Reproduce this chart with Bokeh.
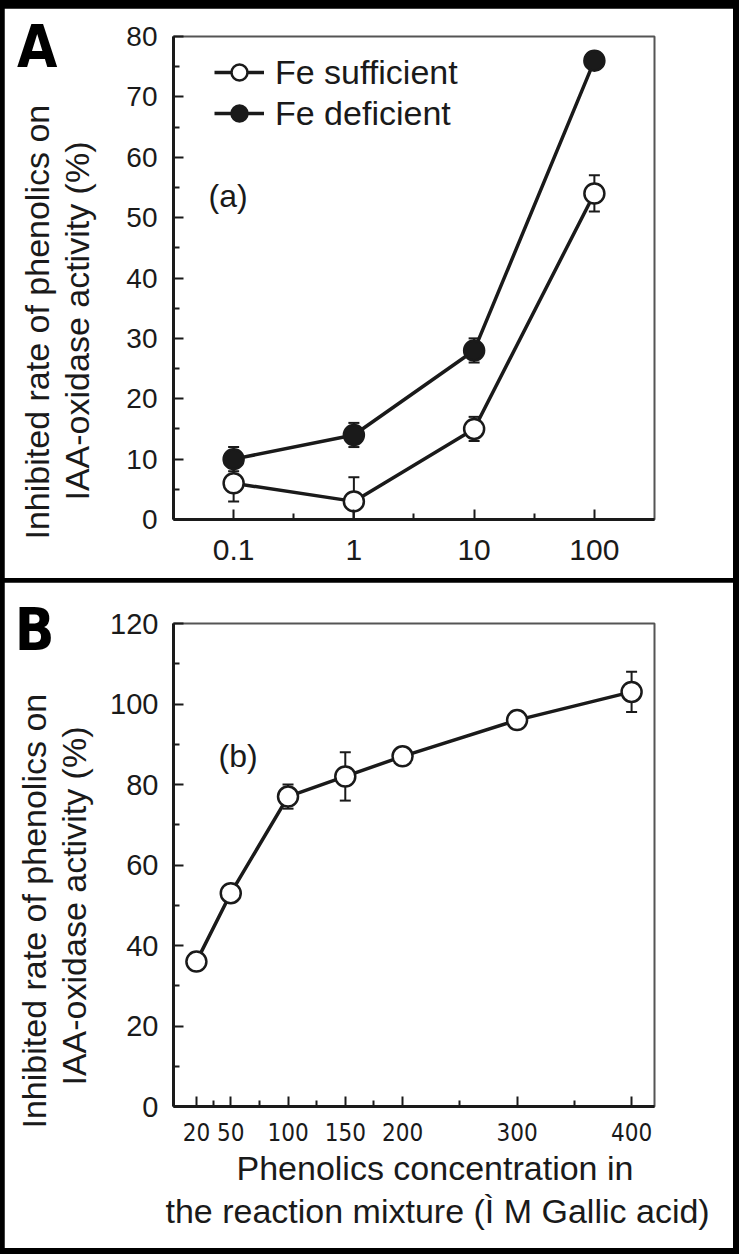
from bokeh.plotting import figure
from bokeh.models import (ColumnDataSource, Whisker, TeeHead, Range1d, FixedTicker, LinearAxis,
                          NumeralTickFormatter, PrintfTickFormatter, Legend, LegendItem, Label, Title)
from bokeh.layouts import column
from bokeh.embed import file_html
from bokeh.resources import INLINE

# ---------------- data ----------------
# Panel A (log x)
conc_a = [0.1, 1, 10, 100]
fe_sufficient = [6, 3, 15, 54]
fe_sufficient_err = [3, 4, 2, 3]
fe_deficient = [10, 14, 28, 76]
fe_deficient_err = [2, 2, 2, 1]

# Panel B
conc_b = [20, 50, 100, 150, 200, 300, 400]
gallic = [36, 53, 77, 82, 87, 96, 103]
gallic_err = [0, 0, 3, 6, 0, 0, 5]

# ticks
a_xticks = [0.1, 1, 10, 100]
a_xminor = [0.316, 3.16, 31.6]
a_yticks = [0, 10, 20, 30, 40, 50, 60, 70, 80]
a_yminor = [5, 15, 25, 35, 45, 55, 65, 75]
b_xticks = [20, 50, 100, 150, 200, 300, 400]
b_xminor = [35, 75, 125, 175, 250, 350]
b_yticks = [0, 20, 40, 60, 80, 100, 120]
b_yminor = [10, 30, 50, 70, 90, 110]

# layout constants: height (in y-axis units) at which the panel letters sit
LETTER_A_Y = 78.3
LETTER_B_Y = 118.3

FONT = "Liberation Sans"
NARROW = "Liberation Sans Narrow, DejaVu Sans Condensed, Liberation Sans"
INK = "#1a1a1a"


def style_axes(p, xsize, ysize, xfont=FONT, xstand=18, ystand=16, yspacer=0):
    p.grid.visible = False
    p.outline_line_color = "#555555"
    p.outline_line_width = 2
    p.background_fill_color = "white"
    p.border_fill_color = "white"
    for ax in p.xaxis + p.yaxis:
        ax.axis_line_width = 3
        ax.axis_line_color = INK
        ax.major_tick_in = 10
        ax.major_tick_out = 0
        ax.minor_tick_in = 6
        ax.minor_tick_out = 0
        ax.major_tick_line_width = 2
        ax.minor_tick_line_width = 2
        ax.major_tick_line_color = INK
        ax.minor_tick_line_color = INK
        ax.major_label_text_color = INK
    for ax in p.xaxis:
        ax.major_label_text_font = xfont
        ax.major_label_text_font_size = xsize
        ax.major_label_standoff = xstand
    for ax in p.yaxis:
        ax.major_label_text_font = FONT
        ax.major_label_text_font_size = ysize
        ax.major_label_standoff = ystand
        ax.axis_label = " "
        ax.axis_label_text_font_size = "1px"
        ax.axis_label_standoff = yspacer


def add_errors(p, x, y, err):
    src = ColumnDataSource(dict(x=x, upper=[v + e for v, e in zip(y, err)],
                                lower=[v - e for v, e in zip(y, err)]))
    w = Whisker(base="x", upper="upper", lower="lower", source=src, dimension="height",
                line_width=2, line_color=INK,
                upper_head=TeeHead(size=11, line_width=2, line_color=INK),
                lower_head=TeeHead(size=11, line_width=2, line_color=INK))
    p.add_layout(w)


def side_title(p, text, place, offset, size="34px", standoff=0):
    t = Title(text=text, align="left", offset=offset, text_font=FONT,
              text_font_size=size, text_font_style="normal", text_color=INK,
              standoff=standoff)
    p.add_layout(t, place)


def panel_letter(p, letter, y):
    # an outer, line-less axis whose single tick label is the panel letter
    ax = LinearAxis(ticker=FixedTicker(ticks=[y], minor_ticks=[]),
                    formatter=PrintfTickFormatter(format=letter),
                    axis_line_color=None, major_tick_line_color=None,
                    minor_tick_line_color=None, major_tick_in=0, major_tick_out=0,
                    major_label_text_font=NARROW, major_label_text_font_size="58px",
                    major_label_text_font_style="bold", major_label_text_color="black",
                    major_label_text_baseline="alphabetic", major_label_text_align="right",
                    major_label_standoff=-42)
    p.add_layout(ax, "left")


# ---------------- Panel A ----------------
pA = figure(width=729, height=570, x_axis_type="log",
            x_range=Range1d(10 ** -1.5, 10 ** 2.5), y_range=Range1d(0, 80),
            output_backend="svg", toolbar_location=None,
            min_border_left=168, min_border_right=79, min_border_top=28, min_border_bottom=59)
style_axes(pA, "30px", "28px", xstand=20, ystand=16, yspacer=24)
pA.xaxis.ticker = FixedTicker(ticks=a_xticks, minor_ticks=a_xminor)
pA.xaxis.formatter = NumeralTickFormatter(format="0.[0]")
pA.yaxis.ticker = FixedTicker(ticks=a_yticks, minor_ticks=a_yminor)

add_errors(pA, conc_a, fe_sufficient, fe_sufficient_err)
add_errors(pA, conc_a, fe_deficient, fe_deficient_err)

srcS = ColumnDataSource(dict(x=conc_a, y=fe_sufficient))
srcD = ColumnDataSource(dict(x=conc_a, y=fe_deficient))
lS = pA.line("x", "y", source=srcS, line_width=3.5, line_color=INK)
lD = pA.line("x", "y", source=srcD, line_width=3.5, line_color=INK)
mS = pA.scatter("x", "y", source=srcS, size=20, fill_color="white", line_color=INK, line_width=2.5)
mD = pA.scatter("x", "y", source=srcD, size=20, fill_color=INK, line_color=INK, line_width=2.5)

legend = Legend(items=[LegendItem(label="Fe sufficient", renderers=[lS, mS]),
                       LegendItem(label="Fe deficient", renderers=[lD, mD])],
                location=(41, 386), border_line_color=None, background_fill_alpha=0,
                padding=0, margin=0, spacing=1, glyph_width=50, glyph_height=40,
                label_height=40, label_standoff=11, label_text_font=FONT,
                label_text_font_size="34px", label_text_color=INK,
                label_text_baseline="middle")
pA.add_layout(legend)

pA.add_layout(Label(x=35, y=324, x_units="screen", y_units="screen", text="(a)",
                    text_font=FONT, text_font_size="32px", text_color=INK,
                    text_baseline="alphabetic"))

side_title(pA, "IAA-oxidase activity (%)", "left", 19)
side_title(pA, "Inhibited rate of phenolics on", "left", -20)
panel_letter(pA, "A", LETTER_A_Y)

# ---------------- Panel B ----------------
pB = figure(width=729, height=666, x_range=Range1d(0, 420), y_range=Range1d(0, 120),
            output_backend="svg", toolbar_location=None,
            min_border_left=169, min_border_right=76, min_border_top=41, min_border_bottom=142)
style_axes(pB, "24px", "29px", xfont=NARROW, xstand=16, ystand=15, yspacer=10)
pB.xaxis.ticker = FixedTicker(ticks=b_xticks, minor_ticks=b_xminor)
pB.yaxis.ticker = FixedTicker(ticks=b_yticks, minor_ticks=b_yminor)

add_errors(pB, conc_b, gallic, gallic_err)
srcB = ColumnDataSource(dict(x=conc_b, y=gallic))
pB.line("x", "y", source=srcB, line_width=3.5, line_color=INK)
pB.scatter("x", "y", source=srcB, size=20, fill_color="white", line_color=INK, line_width=2.5)

pB.add_layout(Label(x=45, y=351, x_units="screen", y_units="screen", text="(b)",
                    text_font=FONT, text_font_size="32px", text_color=INK,
                    text_baseline="alphabetic"))

side_title(pB, "IAA-oxidase activity (%)", "left", 21)
side_title(pB, "Inhibited rate of phenolics on", "left", -22)
side_title(pB, "Phenolics concentration in", "below", 63, size="34px", standoff=6)
side_title(pB, "the reaction mixture (Ì M Gallic acid)", "below", -8, size="34px", standoff=0)
panel_letter(pB, "B", LETTER_B_Y)

layout = column(pA, pB, spacing=4,
                styles={"background-color": "black", "padding": "8px 6px 6px 4px"})

open("out.html", "w").write(file_html(layout, INLINE))
